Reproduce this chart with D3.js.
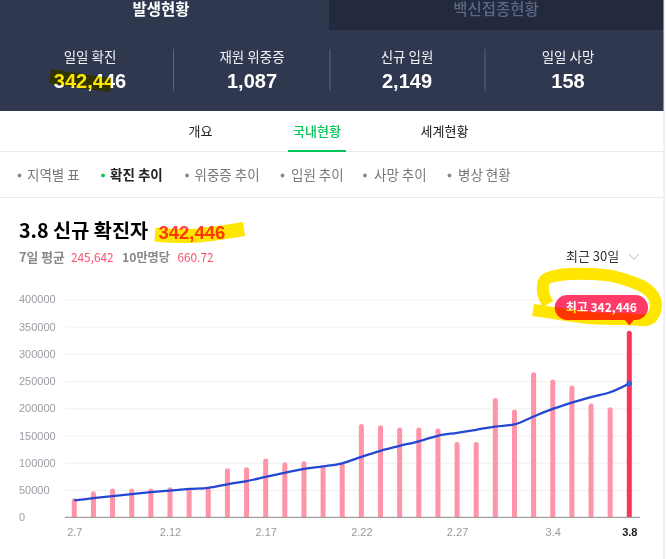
<!DOCTYPE html>
<html><head><meta charset="utf-8">
<script src="https://cdn.jsdelivr.net/npm/d3@7"></script>
<style>
html,body{margin:0;padding:0;background:#fff;overflow:hidden}
svg{display:block;font-family:"Noto Sans CJK KR","Noto Sans",sans-serif}
.hl{mix-blend-mode:multiply;fill:none;stroke:#ffe600;stroke-linecap:butt;stroke-linejoin:round}
</style></head><body>
<svg id="c" width="666" height="559"></svg>
<script>
const dates=["2.7","2.8","2.9","2.10","2.11","2.12","2.13","2.14","2.15","2.16","2.17","2.18","2.19","2.20","2.21","2.22","2.23","2.24","2.25","2.26","2.27","2.28","3.1","3.2","3.3","3.4","3.5","3.6","3.7","3.8"];
const newCases=[35000,48000,53000,53000,53000,55000,54000,54000,90000,92000,108000,101000,103000,94000,99000,171000,169000,165000,165000,163000,138000,138000,219000,198000,266000,253000,242000,209000,202000,342446];
const weekAvg=[31000,35000,39000,42500,46000,49000,52000,54000,60500,66500,74000,81500,89000,93500,99000,111000,122000,131000,139500,149500,155000,160500,166500,170500,185000,199000,210500,220500,229500,245642];
const xLabels=["2.7","2.12","2.17","2.22","2.27","3.4","3.8"];
const yTicks=[0,50000,100000,150000,200000,250000,300000,350000,400000];
const stats=[["일일 확진","342,446",90],["재원 위중증","1,087",252],["신규 입원","2,149",407],["일일 사망","158",568]];
const subTabs=[["개요",200.5,"#222"],["국내현황",317,"#03c75a"],["세계현황",444.5,"#222"]];
const chips=[["지역별 표",27,19.5],["확진 추이",110,103],["위중증 추이",194.5,187],["입원 추이",291,282.5],["사망 추이",374,365],["병상 현황",458,449.5]];
const latin='"Liberation Sans",Arial,sans-serif';

const svg=d3.select("#c");
const T=(x,y,s,size,fill,weight,anchor)=>svg.append("text").attr("x",x).attr("y",y).attr("dy","0.35em")
  .attr("font-size",size).attr("fill",fill).attr("font-weight",weight||400).attr("text-anchor",anchor||"start").text(s);
const R=(x,y,w,h,f)=>svg.append("rect").attr("x",x).attr("y",y).attr("width",w).attr("height",h).attr("fill",f);

// header
R(0,0,664,111,"#2f384f");
R(329,0,335,30,"#232a3e");
T(161,10,"발생현황",15.5,"#fff",700,"middle");
T(496,10,"백신접종현황",15.5,"#5c6784",500,"middle");
stats.forEach(d=>{T(d[2],57,d[0],13.5,"#f2f3f6",400,"middle");T(d[2],81,d[1],20,"#fff",700,"middle").attr("font-family",latin);});
[173,329.5,484.5].forEach(x=>R(x,49,1,42,"#5c6478"));

// nav
subTabs.forEach(d=>T(d[1],131.5,d[0],13,d[2],d[2]==="#222"?400:500,"middle"));
R(0,151,664,1,"#e9ebee");
R(288,150,58,2,"#03c75a");
chips.forEach((d,i)=>{
  const on=i===1;
  svg.append("circle").attr("cx",d[2]).attr("cy",175.5).attr("r",1.9).attr("fill",on?"#03c75a":"#8a8a8a");
  T(d[1],175,d[0],13.5,on?"#222":"#777",on?700:400);
});
R(0,197,664,1,"#e9ebee");

// title
T(19,231.5,"3.8 신규 확진자",19.7,"#000",700);
T(158.5,232.5,"342,446",18.5,"#ff3d3d",700).attr("font-family",latin);
T(19,257.5,"7일 평균",12.8,"#888",700);
T(71,257.5,"245,642",11.8,"#ff4d6d",400);
T(122,257.5,"10만명당",12.2,"#888",700);
T(177.5,257.5,"660.72",11.8,"#ff4d6d",400);
T(566,256.5,"최근 30일",13,"#333",400);
svg.append("path").attr("d",d3.line()([[629,254],[634,259.5],[639,254]])).attr("fill","none").attr("stroke","#bbb").attr("stroke-width",1);

// chart
const x=d3.scalePoint().domain(dates).range([74.3,629.3]);
const y=d3.scaleLinear().domain([0,400000]).range([517.3,299.3]);

const gy=svg.append("g").attr("transform","translate(65,0)")
  .call(d3.axisLeft(y).tickValues(yTicks).tickSize(-575).tickPadding(0).tickFormat(d3.format("d")));
gy.select(".domain").remove();
gy.selectAll(".tick line").attr("stroke","#f0f0f1").attr("stroke-width",1);
gy.selectAll(".tick text").attr("x",-46).attr("text-anchor","start").attr("font-size",11).attr("fill","#9a9da5").attr("font-family","inherit");

const barW=5;
svg.append("g").selectAll("path").data(dates).join("path")
  .attr("d",(d,i)=>{
    const px=x(d)-barW/2,top=y(newCases[i]),base=y(0),r=2.5;
    const p=d3.path();
    p.moveTo(px,base);p.lineTo(px,top+r);
    p.arc(px+r,top+r,r,Math.PI,0);
    p.lineTo(px+barW,base);p.closePath();
    return p.toString();
  })
  .attr("fill",(d,i)=>i===dates.length-1?"#ff3355":"#ff94a8");

const gx=svg.append("g").attr("transform","translate(0,"+y(0)+")")
  .call(d3.axisBottom(x).tickValues(xLabels).tickSize(0).tickPadding(11));
gx.select(".domain").remove();
gx.selectAll(".tick text").attr("font-size",11).attr("font-family","inherit")
  .attr("fill",d=>d==="3.8"?"#222":"#999").attr("font-weight",d=>d==="3.8"?700:400);
svg.append("line").attr("x1",65).attr("x2",640).attr("y1",y(0)).attr("y2",y(0)).attr("stroke","#8c8c8c").attr("stroke-width",1);

const line=d3.line().x((d,i)=>x(dates[i])).y(d=>y(d)).curve(d3.curveMonotoneX);
svg.append("path").attr("d",line(weekAvg)).attr("fill","none").attr("stroke","#2347d3").attr("stroke-width",2.3);
svg.append("circle").attr("cx",x("3.8")).attr("cy",y(weekAvg[29])).attr("r",2.8).attr("fill","#3a5fd9");

// badge
const bx=x("3.8");
svg.append("rect").attr("x",554.7).attr("y",295).attr("width",93.3).attr("height",25).attr("rx",12.5).attr("fill","#ff3a66");
svg.append("path").attr("d",d3.line()([[bx-5,319.5],[bx+5,319.5],[bx,325.5]])).attr("fill","#ff3a66");
T(601.3,308,"최고 342,446",12,"#fff",700,"middle");

// yellow highlighter marks
const curve=d3.line().curve(d3.curveCatmullRom);
svg.append("path").attr("class","hl").attr("stroke-width",12)
  .attr("d",curve([[533,310],[560,314],[590,318],[625,319],[650,318.5],[656,304],[648,290],[616,277],[593,274],[560,275],[545,280],[543,292],[548,304]]));
svg.append("path").attr("class","hl").attr("stroke-width",14)
  .attr("d",curve([[155,234.5],[190,236],[244,229]]));
svg.append("path").attr("class","hl").attr("stroke-width",14)
  .attr("d",curve([[50,76],[80,81],[111,85]]));

// right edge
R(663.5,0,1,559,"#e6e6e6");
</script>
</body></html>
